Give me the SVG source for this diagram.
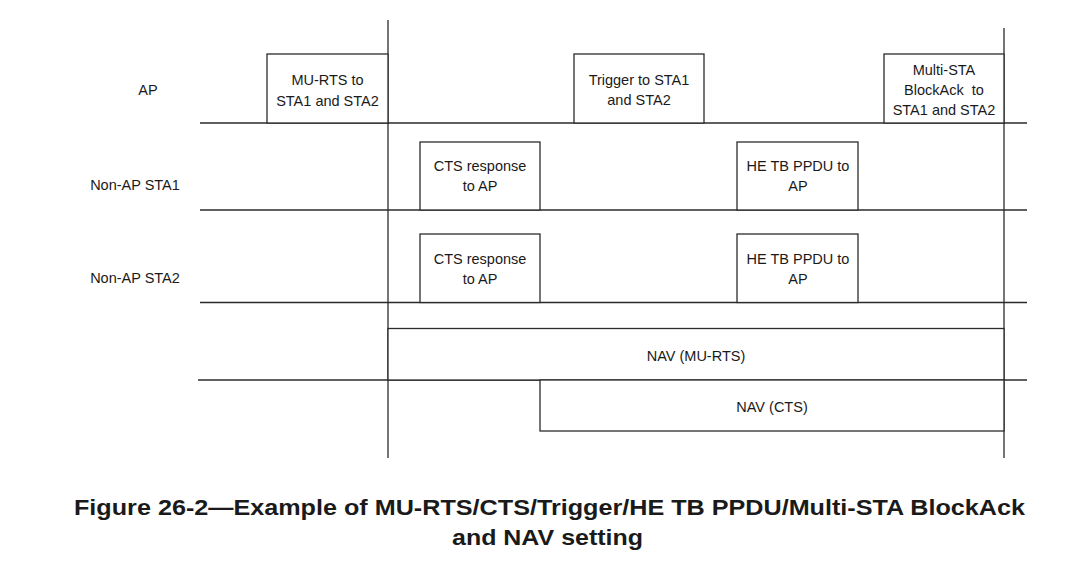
<svg xmlns="http://www.w3.org/2000/svg" width="1078" height="588" viewBox="0 0 1078 588">
<style>
.ln{stroke:#2b2b2b;stroke-width:1.3;fill:none}
.bx{stroke:#2b2b2b;stroke-width:1.3;fill:#fff}
.t{font-family:"Liberation Sans",Arial,sans-serif;font-size:14.5px;fill:#1a1a1a;text-anchor:middle}
.pre{white-space:pre}
.cap{font-family:"Liberation Sans",Arial,sans-serif;font-size:22.5px;font-weight:bold;fill:#1a1a1a;text-anchor:middle}
</style>
<rect width="1078" height="588" fill="#fff"/>
<g id="connectors">
<line class="ln" x1="388" y1="20" x2="388" y2="458"/>
<line class="ln" x1="1004" y1="28" x2="1004" y2="458"/>
<line class="ln" x1="200" y1="123" x2="1027" y2="123"/>
<line class="ln" x1="200" y1="210" x2="1027" y2="210"/>
<line class="ln" x1="200" y1="302.5" x2="1027" y2="302.5"/>
<line class="ln" x1="198" y1="380" x2="1027" y2="380"/>
</g>
<g id="labels">
<text class="t" x="148" y="95">AP</text>
<text class="t" x="135" y="190">Non-AP STA1</text>
<text class="t" x="135" y="283">Non-AP STA2</text>
</g>
<g id="mu-rts">
<rect class="bx" x="267" y="54" width="121" height="69"/>
<text class="t" x="327.5" y="85">MU-RTS to</text>
<text class="t" x="327.5" y="105.5">STA1 and STA2</text>
</g>
<g id="trigger">
<rect class="bx" x="574" y="54" width="130" height="69"/>
<text class="t" x="639" y="85">Trigger to STA1</text>
<text class="t" x="639" y="105">and STA2</text>
</g>
<g id="multi-sta">
<rect class="bx" x="884" y="54" width="120" height="69"/>
<text class="t" x="944" y="75">Multi-STA</text>
<text class="t pre" x="944" y="95" xml:space="preserve">BlockAck  to</text>
<text class="t" x="944" y="115">STA1 and STA2</text>
</g>
<g id="cts1">
<rect class="bx" x="420" y="142" width="120" height="68"/>
<text class="t" x="480" y="171">CTS response</text>
<text class="t" x="480" y="191">to AP</text>
</g>
<g id="hetb1">
<rect class="bx" x="737" y="142" width="121" height="68"/>
<text class="t" x="798" y="171">HE TB PPDU to</text>
<text class="t" x="798" y="191">AP</text>
</g>
<g id="cts2">
<rect class="bx" x="420" y="234" width="120" height="68.5"/>
<text class="t" x="480" y="264">CTS response</text>
<text class="t" x="480" y="284">to AP</text>
</g>
<g id="hetb2">
<rect class="bx" x="737" y="234" width="121" height="68.5"/>
<text class="t" x="798" y="264">HE TB PPDU to</text>
<text class="t" x="798" y="284">AP</text>
</g>
<g id="nav-murts">
<rect class="bx" x="388" y="328.5" width="616" height="51.5"/>
<text class="t" x="696" y="360.5">NAV (MU-RTS)</text>
</g>
<g id="nav-cts">
<rect class="bx" x="540" y="380" width="464" height="51"/>
<text class="t" x="772" y="412">NAV (CTS)</text>
</g>
<g id="caption">
<text class="cap" x="549.5" y="515" textLength="951" lengthAdjust="spacingAndGlyphs">Figure 26-2—Example of MU-RTS/CTS/Trigger/HE TB PPDU/Multi-STA BlockAck</text>
<text class="cap" x="547.5" y="545" textLength="191" lengthAdjust="spacingAndGlyphs">and NAV setting</text>
</g>
</svg>
